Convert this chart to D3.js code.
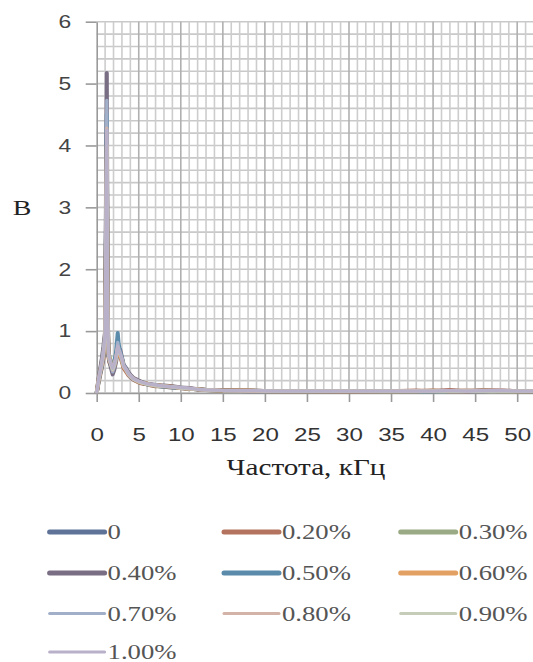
<!DOCTYPE html>
<html>
<head>
<meta charset="utf-8">
<script src="https://cdn.jsdelivr.net/npm/d3@7"></script>
<style>
  body { margin: 0; background: #fff; }
</style>
</head>
<body>
<svg width="533" height="662"></svg>
<script>
// Данные (кГц, В)
const freq = [0, 0.2, 0.4, 0.6, 0.8, 1.0, 1.2, 1.3, 1.4, 1.5, 1.7, 1.9, 2.1, 2.3, 2.5, 2.6, 2.8, 3.0, 3.2, 3.5,
	3.8, 4.1, 4.4, 4.7, 5.0, 5.5, 6.0, 6.5, 7.0, 7.5, 8.0, 9.0, 10, 11, 12, 13, 15, 18, 21, 25,
	30, 35, 38, 40, 42, 44, 46, 48, 50, 52];

const seriesNames = ["0", "0.20%", "0.30%", "0.40%", "0.50%", "0.60%", "0.70%", "0.80%", "0.90%", "1.00%"];

const s0 = [0, 0.18, 0.32, 0.45, 0.62, 0.85, 4.10, 1.20, 0.62, 0.55, 0.48, 0.40, 0.52, 0.60, 0.78, 0.70, 0.62, 0.55, 0.42, 0.36,
	0.30, 0.26, 0.22, 0.20, 0.18, 0.16, 0.14, 0.13, 0.12, 0.12, 0.11, 0.10, 0.08, 0.07, 0.06, 0.05, 0.04, 0.04, 0.03, 0.03,
	0.03, 0.03, 0.03, 0.03, 0.04, 0.03, 0.04, 0.03, 0.03, 0.03];
const s1 = [0, 0.15, 0.28, 0.40, 0.55, 0.80, 4.20, 1.05, 0.58, 0.50, 0.44, 0.36, 0.45, 0.56, 0.70, 0.66, 0.58, 0.50, 0.40, 0.34,
	0.28, 0.24, 0.21, 0.19, 0.17, 0.15, 0.14, 0.12, 0.11, 0.11, 0.10, 0.09, 0.08, 0.07, 0.06, 0.05, 0.04, 0.03, 0.03, 0.03,
	0.02, 0.03, 0.04, 0.03, 0.05, 0.03, 0.05, 0.04, 0.03, 0.03];
const s2 = [0, 0.20, 0.35, 0.50, 0.70, 0.95, 3.90, 1.30, 0.70, 0.60, 0.50, 0.42, 0.48, 0.58, 0.74, 0.68, 0.64, 0.52, 0.44, 0.38,
	0.31, 0.27, 0.23, 0.21, 0.19, 0.17, 0.15, 0.13, 0.12, 0.11, 0.11, 0.10, 0.09, 0.07, 0.06, 0.05, 0.04, 0.04, 0.03, 0.03,
	0.03, 0.02, 0.03, 0.03, 0.03, 0.04, 0.03, 0.03, 0.02, 0.03];
const s3 = [0, 0.22, 0.38, 0.55, 0.75, 1.00, 5.17, 1.40, 0.66, 0.52, 0.40, 0.30, 0.38, 0.50, 0.68, 0.62, 0.70, 0.58, 0.46, 0.40,
	0.33, 0.28, 0.24, 0.22, 0.20, 0.17, 0.15, 0.14, 0.13, 0.12, 0.12, 0.11, 0.09, 0.08, 0.06, 0.05, 0.05, 0.04, 0.03, 0.03,
	0.03, 0.03, 0.03, 0.04, 0.03, 0.03, 0.03, 0.04, 0.03, 0.03];
const s4 = [0, 0.16, 0.30, 0.42, 0.60, 0.88, 4.50, 1.10, 0.60, 0.54, 0.46, 0.38, 0.50, 0.66, 0.97, 0.80, 0.66, 0.56, 0.45, 0.38,
	0.30, 0.25, 0.22, 0.20, 0.18, 0.16, 0.14, 0.13, 0.12, 0.11, 0.10, 0.09, 0.08, 0.07, 0.06, 0.05, 0.04, 0.03, 0.03, 0.03,
	0.03, 0.03, 0.03, 0.03, 0.03, 0.03, 0.04, 0.03, 0.03, 0.03];
const s5 = [0, 0.19, 0.33, 0.47, 0.64, 0.90, 4.00, 1.25, 0.64, 0.56, 0.47, 0.39, 0.44, 0.55, 0.72, 0.67, 0.60, 0.54, 0.43, 0.37,
	0.30, 0.26, 0.23, 0.20, 0.18, 0.16, 0.15, 0.13, 0.12, 0.12, 0.11, 0.10, 0.08, 0.07, 0.06, 0.05, 0.04, 0.04, 0.03, 0.03,
	0.03, 0.03, 0.03, 0.04, 0.03, 0.03, 0.04, 0.03, 0.03, 0.03];
const s6 = [0, 0.21, 0.36, 0.52, 0.72, 0.98, 4.73, 1.35, 0.68, 0.58, 0.45, 0.34, 0.42, 0.54, 0.82, 0.74, 0.66, 0.57, 0.45, 0.39,
	0.32, 0.27, 0.23, 0.21, 0.19, 0.17, 0.15, 0.14, 0.13, 0.12, 0.11, 0.10, 0.09, 0.07, 0.06, 0.05, 0.04, 0.04, 0.03, 0.03,
	0.03, 0.03, 0.03, 0.03, 0.03, 0.03, 0.03, 0.03, 0.03, 0.03];
const s7 = [0, 0.17, 0.31, 0.44, 0.60, 0.86, 4.28, 1.15, 0.62, 0.53, 0.45, 0.37, 0.46, 0.58, 0.75, 0.69, 0.62, 0.53, 0.42, 0.36,
	0.29, 0.25, 0.22, 0.20, 0.18, 0.16, 0.14, 0.13, 0.12, 0.11, 0.11, 0.10, 0.08, 0.07, 0.06, 0.05, 0.04, 0.03, 0.03, 0.03,
	0.03, 0.03, 0.04, 0.03, 0.04, 0.05, 0.04, 0.05, 0.03, 0.03];
const s8 = [0, 0.18, 0.32, 0.46, 0.63, 0.90, 4.00, 1.20, 0.63, 0.55, 0.46, 0.38, 0.45, 0.57, 0.73, 0.68, 0.61, 0.54, 0.43, 0.37,
	0.30, 0.26, 0.22, 0.20, 0.18, 0.16, 0.14, 0.13, 0.12, 0.11, 0.11, 0.10, 0.08, 0.07, 0.06, 0.05, 0.04, 0.04, 0.03, 0.03,
	0.03, 0.03, 0.03, 0.03, 0.03, 0.03, 0.03, 0.03, 0.03, 0.03];
const s9 = [0, 0.20, 0.34, 0.48, 0.66, 0.92, 4.25, 1.28, 0.65, 0.57, 0.48, 0.40, 0.47, 0.60, 0.76, 0.70, 0.63, 0.55, 0.44, 0.38,
	0.31, 0.27, 0.23, 0.21, 0.19, 0.17, 0.15, 0.14, 0.13, 0.12, 0.11, 0.10, 0.09, 0.08, 0.06, 0.05, 0.04, 0.04, 0.03, 0.03,
	0.03, 0.03, 0.03, 0.03, 0.04, 0.03, 0.04, 0.04, 0.03, 0.03];

const seriesValues = [s0, s1, s2, s3, s4, s5, s6, s7, s8, s9];

const xTicks = [0, 5, 10, 15, 20, 25, 30, 35, 40, 45, 50];
const yTicks = [0, 1, 2, 3, 4, 5, 6];

// Цвета и толщины линий (как в Excel)
const colors = ["#5f7399", "#b3735f", "#9aaa84", "#7a6e84", "#5b8bab", "#e3a063",
	"#a1afc8", "#d3b3a8", "#c5cdb8", "#b9b0c9"];
const widths = [4, 4, 4, 4, 4, 4, 3.2, 3.2, 3.2, 3.2];

// Картинка растянута по горизонтали
const stretch = 1.27;

// Подготовка графика
var svg = d3.select("svg"),
	margin = { top: 21.7, right: 0, bottom: 269, left: 96.7 },
	width = +svg.attr("width"),
	height = +svg.attr("height");

const x = d3.scaleLinear()
	.domain([0, 52])
	.range([margin.left, 534]);

const y = d3.scaleLinear()
	.domain([0, 6])
	.range([height - margin.bottom, margin.top]);

// Сетка
const grid = svg.append("g");

grid.selectAll("line.h")
	.data(d3.range(0, 31).map(i => i * 0.2))
	.join("line")
	.attr("x1", x(0))
	.attr("x2", x(52))
	.attr("y1", d => y(d))
	.attr("y2", d => y(d))
	.attr("stroke", "#c9c9c9")
	.attr("stroke-width", 1.6);

grid.selectAll("line.v")
	.data(d3.range(1, 53))
	.join("line")
	.attr("x1", d => x(d))
	.attr("x2", d => x(d))
	.attr("y1", y(0))
	.attr("y2", y(6))
	.attr("stroke", d => d % 5 === 0 ? "#b0b0b0" : "#cdcdcd")
	.attr("stroke-width", 1.6);

// Оси
const xAxis = g => g
	.attr("transform", `translate(0,${y(0)})`)
	.call(d3.axisBottom(x).tickValues(xTicks).tickSizeInner(9).tickSizeOuter(0).tickPadding(26))
	.call(g => g.select(".domain").attr("stroke", "#9a9a9a").attr("stroke-width", 1.6))
	.call(g => g.selectAll(".tick line").attr("stroke", "#9a9a9a").attr("stroke-width", 1.6))
	.call(g => g.selectAll(".tick text")
		.attr("font-family", "Liberation Sans, Arial, sans-serif")
		.attr("font-size", 19)
		.attr("fill", "#333")
		.attr("transform", `scale(${stretch},1)`));

const yAxis = g => g
	.attr("transform", `translate(${x(0)},0)`)
	.call(d3.axisLeft(y).tickValues(yTicks).tickFormat(d3.format("d")).tickSizeInner(11).tickSizeOuter(0).tickPadding(9))
	.call(g => g.select(".domain").attr("stroke", "#9a9a9a").attr("stroke-width", 1.6))
	.call(g => g.selectAll(".tick line").attr("stroke", "#9a9a9a").attr("stroke-width", 1.6))
	.call(g => g.selectAll(".tick text")
		.attr("font-family", "Liberation Sans, Arial, sans-serif")
		.attr("font-size", 18)
		.attr("fill", "#444")
		.attr("transform", `scale(${stretch},1)`));

svg.append("g").call(xAxis);
svg.append("g").call(yAxis);

// Линии
const line = d3.line()
	.x((d, i) => x(freq[i]))
	.y(d => y(d));

svg.append("g")
	.attr("fill", "none")
	.attr("stroke-linejoin", "round")
	.selectAll("path")
	.data(seriesValues)
	.join("path")
	.attr("stroke", (d, i) => colors[i])
	.attr("stroke-width", (d, i) => widths[i])
	.attr("d", line);

// Подписи осей
svg.append("text")
	.attr("transform", `translate(22,${y(3) + 8}) scale(${stretch},1)`)
	.attr("text-anchor", "middle")
	.attr("font-family", "Liberation Serif, Times New Roman, serif")
	.attr("font-size", 22)
	.attr("fill", "#222")
	.text("В");

svg.append("text")
	.attr("transform", `translate(306,475) scale(${stretch},1)`)
	.attr("text-anchor", "middle")
	.attr("font-family", "Liberation Serif, Times New Roman, serif")
	.attr("font-size", 23)
	.attr("fill", "#222")
	.text("Частота, кГц");

// Легенда
const legendCols = [49.6, 224, 400.7];
const legendRows = [532, 573, 613.5, 652];

const legend = svg.append("g")
	.selectAll("g")
	.data(seriesNames)
	.join("g")
	.attr("transform", (d, i) => `translate(${legendCols[i % 3]},${legendRows[Math.floor(i / 3)]})`);

legend.append("line")
	.attr("x1", 0)
	.attr("x2", 55)
	.attr("stroke", (d, i) => colors[i])
	.attr("stroke-width", (d, i) => i < 6 ? 5 : 3)
	.attr("stroke-linecap", "round");

legend.append("text")
	.attr("transform", `translate(58,7) scale(${stretch},1)`)
	.attr("font-family", "Liberation Serif, Times New Roman, serif")
	.attr("font-size", 21)
	.attr("fill", "#555")
	.text(d => d);
</script>
</body>
</html>
